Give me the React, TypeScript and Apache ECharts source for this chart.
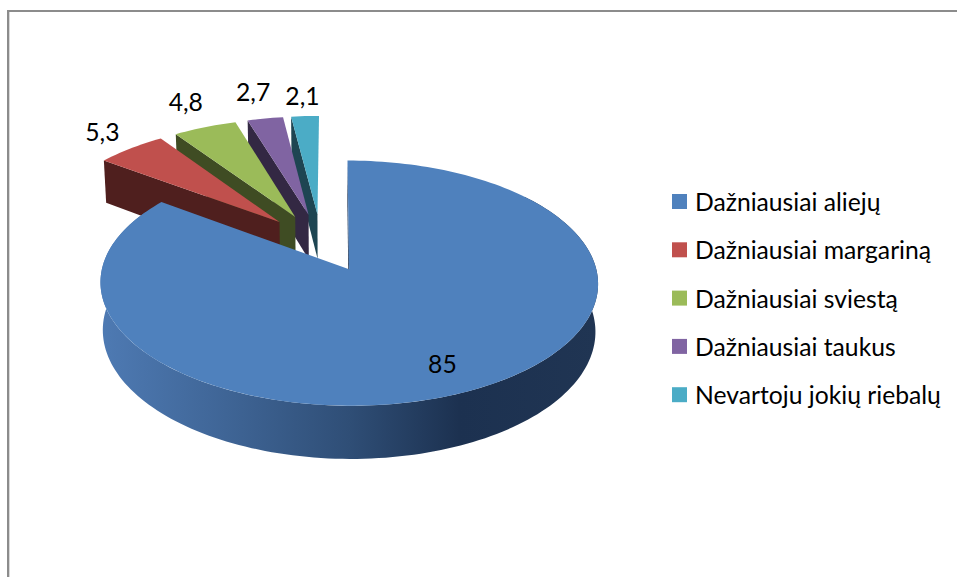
import React, { useEffect, useRef } from "react";
import * as echarts from "echarts";

const names = ["Dažniausiai aliejų", "Dažniausiai margariną", "Dažniausiai sviestą", "Dažniausiai taukus", "Nevartoju jokių riebalų"];
const values = [85, 5.3, 4.8, 2.7, 2.1];
const valueLabels = ["85", "5,3", "4,8", "2,7", "2,1"];
const topColors = ["#4f81bd", "#c0504d", "#9bbb59", "#8064a2", "#4bacc6"];
const wallColors = ["#1c3150", "#4f1f1e", "#3f4c23", "#332843", "#1e4552"];
const labelRadii = [1.03, 1.5, 1.58, 1.6, 1.58];
const labelShifts = [[-2, 3], [5, 0], [7, 0], [1, 2], [1, 7]];
const drawOrder = [4, 3, 2, 1, 0];

const FONT = "Lato, 'Noto Sans', sans-serif";
const EXPLODE = 0.254;
const X0 = 333.5, Y0 = 242.5, A = 241, B = 115, K = 0.1106, P0 = 0.0517, DEPTH = 46, SHRINK = 0.01;

const total = values.reduce((a, b) => a + b, 0);

function project(px: number, pv: number, h: number): number[] {
  const s = 1 / (1 - K * pv);
  return [X0 + A * (px - P0) * s * (1 - SHRINK * h), Y0 + B * pv * s + DEPTH * h * s];
}

function sliceAngles(i: number) {
  let start = 0;
  for (let j = 0; j < i; j++) start += (values[j] / total) * 360;
  return [start, start + (values[i] / total) * 360];
}

function rimPoint(deg: number, ox: number, ov: number, h: number) {
  const t = (deg * Math.PI) / 180;
  return project(ox + Math.sin(t), ov - Math.cos(t), h);
}

function arc(a0: number, a1: number, ox: number, ov: number, h: number) {
  const n = Math.max(2, Math.ceil(Math.abs(a1 - a0) / 1.5));
  const pts: number[][] = [];
  for (let k = 0; k <= n; k++) pts.push(rimPoint(a0 + ((a1 - a0) * k) / n, ox, ov, h));
  return pts;
}

function renderSlice(i: number) {
  const [a0, a1] = sliceAngles(i);
  const mid = (((a0 + a1) / 2) * Math.PI) / 180;
  const ox = Math.sin(mid) * EXPLODE;
  const ov = -Math.cos(mid) * EXPLODE;
  const children: any[] = [];
  const apexTop = project(ox, ov, 0);
  const apexBottom = project(ox, ov, 1);
  if (i === 0) {
    const front = arc(50, 300, ox, ov, 0).concat(arc(300, 50, ox, ov, 1));
    children.push({
      type: "polygon",
      shape: { points: front },
      style: {
        fill: new echarts.graphic.LinearGradient(101, 0, 599, 0, [
          { offset: 0, color: "#4e7ab3" },
          { offset: 0.25, color: "#3f6596" },
          { offset: 0.5, color: "#2f4e76" },
          { offset: 0.72, color: "#1c3150" },
          { offset: 1, color: "#203553" },
        ], true),
      },
    });
  }
  const wallOuter = rimPoint(a0, ox, ov, 0);
  const wallOuterB = rimPoint(a0, ox, ov, 1);
  children.push({
    type: "polygon",
    shape: { points: [apexTop, wallOuter, wallOuterB, apexBottom] },
    style: { fill: wallColors[i] },
  });
  children.push({
    type: "polygon",
    shape: { points: [apexTop].concat(arc(a0, a1, ox, ov, 0)) },
    style: { fill: topColors[i] },
  });
  const r = labelRadii[i];
  const lp = project(Math.sin(mid) * r, -Math.cos(mid) * r, 0);
  children.push({
    type: "text",
    style: {
      text: valueLabels[i], x: lp[0] + labelShifts[i][0], y: lp[1] + labelShifts[i][1], align: "center", verticalAlign: "middle",
      fill: "#000", font: `24.7px ${FONT}`,
    },
  });
  return { type: "group", children };
}

export default function App() {
  const ref = useRef<HTMLDivElement>(null);
  useEffect(() => {
    document.body.style.margin = "0";
    const chart = echarts.init(ref.current!, undefined, { renderer: "svg" });
    chart.setOption({
      animation: false,
      backgroundColor: "#fff",
      graphic: [
        { type: "rect", shape: { x: 7, y: 10, width: 2, height: 567 }, style: { fill: "#8c8c8c" } },
        { type: "rect", shape: { x: 9, y: 11, width: 1, height: 566 }, style: { fill: "#d9d9d9" } },
        { type: "rect", shape: { x: 7, y: 10, width: 950, height: 2 }, style: { fill: "#8c8c8c" } },
      ],
      legend: {
        orient: "vertical",
        left: 667,
        top: 184,
        icon: "rect",
        itemWidth: 15,
        itemHeight: 15,
        itemGap: 23.3,
        selectedMode: false,
        data: names,
        textStyle: { fontFamily: FONT, fontSize: 24.7, color: "#000", padding: [0, 0, 0, 3] },
      },
      series: drawOrder.map((i) => ({
        type: "custom",
        name: names[i],
        coordinateSystem: "none",
        z: i === 0 ? 3 : 2,
        itemStyle: { color: topColors[i] },
        data: [values[i]],
        renderItem: () => renderSlice(i),
      })),
    });
    return () => chart.dispose();
  }, []);
  return <div ref={ref} style={{ position: "fixed", left: 0, top: 0, width: 957, height: 577 }} />;
}
